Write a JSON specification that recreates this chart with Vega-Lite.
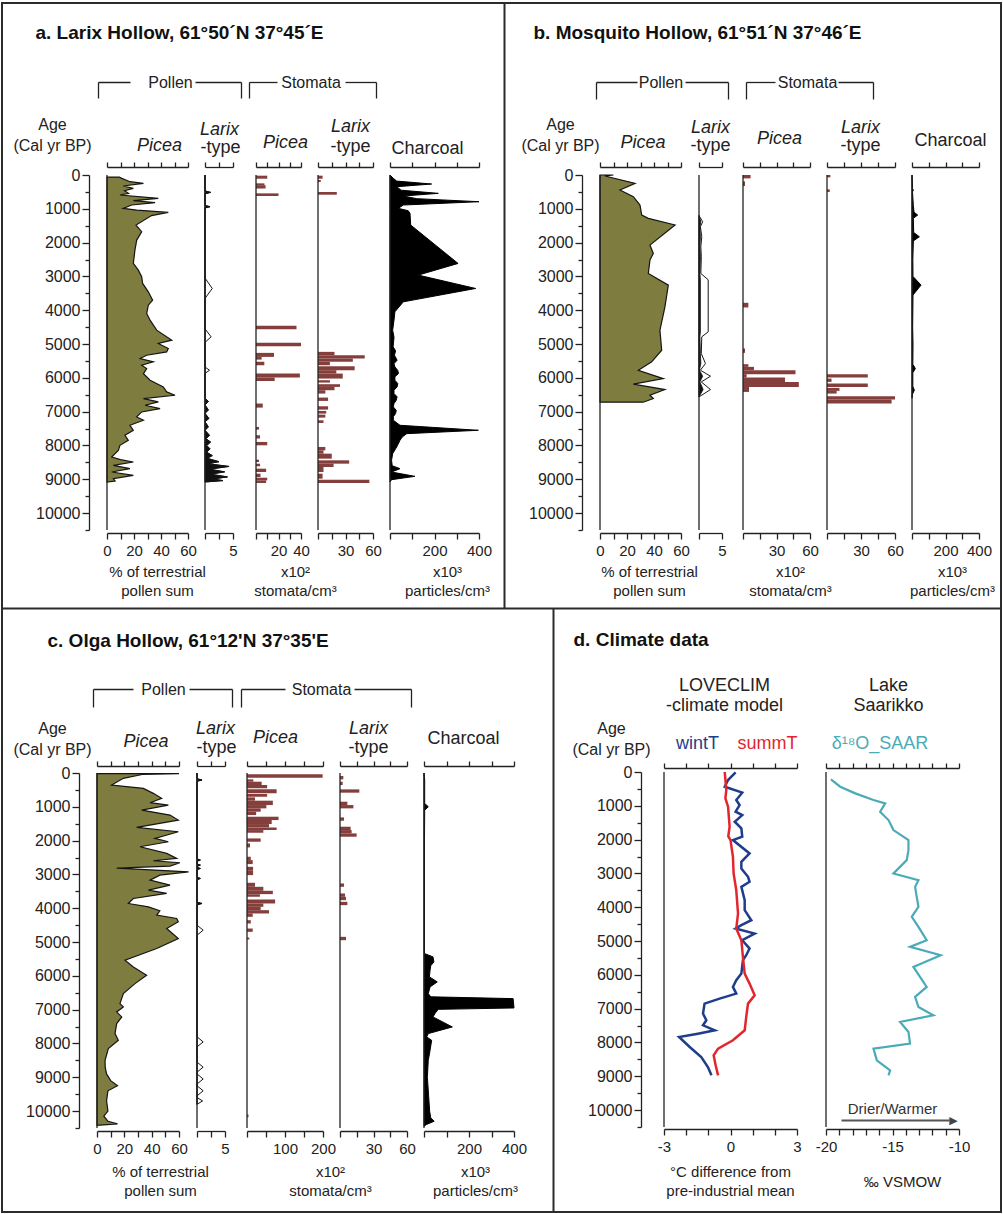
{
"$schema": "https://vega.github.io/schema/vega-lite/v6.json",
"background": "white",
"width": 999, "height": 1209,
"autosize": {"type": "none"},
"padding": {"left": 2, "top": 3, "right": 2, "bottom": 2},
"config": {
  "font": "Liberation Sans",
  "view": {"stroke": "#2b2b2b", "strokeWidth": 2},
  "axis": {"grid": false, "domainColor": "#222", "tickColor": "#222", "domainWidth": 1.3, "tickWidth": 1.3, "tickSize": 5, "labelColor": "#222", "labelFont": "Liberation Sans", "labelFontSize": 15, "labelPadding": 4, "labelOverlap": false, "labelFlush": false, "titleFont": "Liberation Sans", "titleFontWeight": "normal", "titleFontSize": 18, "titleColor": "#222", "titleAlign": "center", "titleBaseline": "alphabetic", "titleLineHeight": 19, "titlePadding": 0}
},
"datasets": {
  "pa_picea": [{"age":60,"v":9},{"age":99,"v":11},{"age":198,"v":17},{"age":247,"v":27},{"age":326,"v":12},{"age":395,"v":19.5},{"age":464,"v":13},{"age":543,"v":16},{"age":592,"v":9.6},{"age":691,"v":38},{"age":760,"v":19.5},{"age":819,"v":35.6},{"age":888,"v":18.3},{"age":987,"v":12.1},{"age":1037,"v":22},{"age":1105,"v":45.4},{"age":1200,"v":33},{"age":1480,"v":21.5},{"age":1678,"v":25.7},{"age":1925,"v":22},{"age":2221,"v":20.7},{"age":2616,"v":19.5},{"age":2813,"v":23.2},{"age":3011,"v":25.7},{"age":3208,"v":26.4},{"age":3455,"v":30.6},{"age":3702,"v":33.8},{"age":3850,"v":30.6},{"age":4096,"v":29.4},{"age":4294,"v":31.9},{"age":4590,"v":36.8},{"age":4886,"v":48},{"age":4985,"v":38},{"age":5132,"v":45.4},{"age":5231,"v":44.2},{"age":5330,"v":29.4},{"age":5429,"v":24.5},{"age":5527,"v":34.3},{"age":5626,"v":25.7},{"age":5725,"v":29.4},{"age":5873,"v":27},{"age":6070,"v":31.9},{"age":6268,"v":41.7},{"age":6416,"v":44.2},{"age":6514,"v":50.4},{"age":6613,"v":27},{"age":6712,"v":38},{"age":6810,"v":28.2},{"age":6909,"v":39.3},{"age":7008,"v":25.7},{"age":7156,"v":22},{"age":7255,"v":27},{"age":7403,"v":17},{"age":7551,"v":19.5},{"age":7699,"v":13.3},{"age":7847,"v":15.8},{"age":7995,"v":9.6},{"age":8143,"v":8.4},{"age":8242,"v":6},{"age":8341,"v":3.5},{"age":8420,"v":10},{"age":8489,"v":19.5},{"age":8588,"v":4.7},{"age":8686,"v":17},{"age":8785,"v":3.5},{"age":8884,"v":19.5},{"age":8982,"v":4.7},{"age":9051,"v":6},{"age":9080,"v":0}],
  "pa_larix": [{"age":0,"v":0,"e":0},{"age":470,"v":0,"e":0},{"age":513,"v":1.0,"e":1.0},{"age":560,"v":0,"e":0},{"age":900,"v":0,"e":0},{"age":938,"v":0.9,"e":0.9},{"age":975,"v":0,"e":0},{"age":3050,"v":0,"e":0},{"age":3356,"v":0,"e":1.3},{"age":3650,"v":0,"e":0},{"age":4550,"v":0,"e":0},{"age":4787,"v":0,"e":1.1},{"age":4950,"v":0,"e":0},{"age":5680,"v":0,"e":0},{"age":5774,"v":0,"e":0.8},{"age":5870,"v":0,"e":0},{"age":6600,"v":0,"e":0},{"age":6700,"v":0.6,"e":0.6},{"age":6800,"v":0,"e":0},{"age":6950,"v":0.6,"e":0.6},{"age":7050,"v":0,"e":0},{"age":7200,"v":0.7,"e":0.7},{"age":7300,"v":0,"e":0},{"age":7450,"v":0.6,"e":0.6},{"age":7550,"v":0,"e":0},{"age":7700,"v":0.8,"e":0.8},{"age":7800,"v":0.2,"e":0.2},{"age":7900,"v":1.0,"e":1.0},{"age":8000,"v":0.3,"e":0.3},{"age":8100,"v":0.9,"e":0.9},{"age":8200,"v":0.3,"e":0.3},{"age":8300,"v":1.3,"e":1.3},{"age":8380,"v":0.4,"e":0.4},{"age":8480,"v":2.5,"e":2.5},{"age":8540,"v":0.5,"e":0.5},{"age":8620,"v":4.3,"e":4.3},{"age":8700,"v":0.8,"e":0.8},{"age":8780,"v":3.5,"e":3.5},{"age":8850,"v":1.0,"e":1.0},{"age":8930,"v":4.0,"e":4.0},{"age":8990,"v":1.5,"e":1.5},{"age":9040,"v":3.2,"e":3.2},{"age":9080,"v":0,"e":0}],
  "pa_spic": [{"a0":20,"a1":110,"v":10},{"a0":247,"a1":300,"v":7.5},{"a0":300,"a1":400,"v":8.5},{"a0":543,"a1":622,"v":20},{"a0":4461,"a1":4560,"v":36},{"a0":4965,"a1":5063,"v":40},{"a0":5261,"a1":5380,"v":16},{"a0":5380,"a1":5460,"v":5},{"a0":5527,"a1":5626,"v":7.4},{"a0":5873,"a1":5992,"v":39},{"a0":5992,"a1":6090,"v":16.6},{"a0":6760,"a1":6880,"v":6},{"a0":7452,"a1":7531,"v":2.7},{"a0":7699,"a1":7797,"v":3.6},{"a0":7896,"a1":7995,"v":10},{"a0":8420,"a1":8489,"v":2.7},{"a0":8538,"a1":8617,"v":3.6},{"a0":8686,"a1":8785,"v":9},{"a0":8834,"a1":8933,"v":4},{"a0":8953,"a1":9031,"v":10},{"a0":9031,"a1":9110,"v":9}],
  "pa_slar": [{"a0":20,"a1":110,"v":5},{"a0":148,"a1":207,"v":3},{"a0":503,"a1":583,"v":20.5},{"a0":5231,"a1":5330,"v":18},{"a0":5330,"a1":5429,"v":51},{"a0":5429,"a1":5527,"v":38},{"a0":5527,"a1":5626,"v":13},{"a0":5656,"a1":5774,"v":40},{"a0":5774,"a1":5873,"v":20},{"a0":5873,"a1":6021,"v":27},{"a0":6070,"a1":6139,"v":13},{"a0":6188,"a1":6268,"v":24},{"a0":6268,"a1":6366,"v":18},{"a0":6366,"a1":6465,"v":8},{"a0":6583,"a1":6682,"v":11},{"a0":6840,"a1":6939,"v":11},{"a0":6978,"a1":7057,"v":9},{"a0":7087,"a1":7176,"v":8},{"a0":7255,"a1":7334,"v":6},{"a0":8044,"a1":8143,"v":8},{"a0":8143,"a1":8242,"v":6},{"a0":8242,"a1":8390,"v":15},{"a0":8439,"a1":8538,"v":34},{"a0":8538,"a1":8637,"v":17},{"a0":8637,"a1":8785,"v":6},{"a0":8834,"a1":8982,"v":5},{"a0":9011,"a1":9110,"v":56}],
  "pa_char": [{"age":0,"v":0},{"age":99,"v":15},{"age":180,"v":30},{"age":267,"v":187},{"age":346,"v":30},{"age":450,"v":50},{"age":543,"v":217},{"age":622,"v":60},{"age":700,"v":120},{"age":790,"v":400},{"age":888,"v":60},{"age":987,"v":37},{"age":1056,"v":82},{"age":1135,"v":90},{"age":1480,"v":93},{"age":2616,"v":306},{"age":2961,"v":127},{"age":3356,"v":385},{"age":3751,"v":60},{"age":4047,"v":22},{"age":4294,"v":18},{"age":4590,"v":12},{"age":4800,"v":18},{"age":5083,"v":14},{"age":5200,"v":25},{"age":5330,"v":20},{"age":5478,"v":32},{"age":5580,"v":18},{"age":5676,"v":22},{"age":5780,"v":35},{"age":5873,"v":38},{"age":5970,"v":22},{"age":6070,"v":22},{"age":6170,"v":35},{"age":6268,"v":32},{"age":6365,"v":18},{"age":6465,"v":18},{"age":6560,"v":32},{"age":6662,"v":28},{"age":6760,"v":18},{"age":6860,"v":15},{"age":6960,"v":28},{"age":7057,"v":25},{"age":7150,"v":15},{"age":7255,"v":15},{"age":7403,"v":45},{"age":7551,"v":397},{"age":7650,"v":75},{"age":7750,"v":55},{"age":7847,"v":45},{"age":8044,"v":30},{"age":8242,"v":12},{"age":8439,"v":7},{"age":8600,"v":10},{"age":8686,"v":45},{"age":8785,"v":7},{"age":8913,"v":112},{"age":9011,"v":7},{"age":9080,"v":0}],
  "pb_picea": [{"age":0,"v":9.9},{"age":30,"v":3.7},{"age":247,"v":26},{"age":444,"v":14.8},{"age":642,"v":24.7},{"age":888,"v":29.6},{"age":1185,"v":30.9},{"age":1283,"v":35.8},{"age":1480,"v":55.6},{"age":2073,"v":37},{"age":2320,"v":39.5},{"age":2517,"v":37},{"age":2912,"v":35.8},{"age":3257,"v":50.6},{"age":3898,"v":48.1},{"age":4590,"v":44.4},{"age":5182,"v":45.7},{"age":5527,"v":38.3},{"age":5774,"v":28.4},{"age":6021,"v":46.9},{"age":6188,"v":24.7},{"age":6346,"v":48.1},{"age":6514,"v":37},{"age":6613,"v":39.5},{"age":6720,"v":32}],
  "pb_larix": [{"age":1200,"v":0,"e":0},{"age":1382,"v":0.4,"e":0.8},{"age":1530,"v":0.2,"e":0.3},{"age":1826,"v":0.3,"e":0.6},{"age":2122,"v":0.2,"e":0.4},{"age":2418,"v":0.3,"e":0.5},{"age":2912,"v":0.2,"e":0.4},{"age":3100,"v":0.3,"e":2.0},{"age":4639,"v":0.3,"e":2.0},{"age":4787,"v":0.2,"e":0.6},{"age":5281,"v":0.3,"e":0.5},{"age":5577,"v":0.4,"e":1.4},{"age":5774,"v":0.1,"e":0.3},{"age":5952,"v":0.8,"e":2.5},{"age":6120,"v":0.2,"e":0.5},{"age":6346,"v":0.9,"e":2.5},{"age":6564,"v":0,"e":0}],
  "pb_spic": [{"a0":0,"a1":100,"v":6.8},{"a0":188,"a1":326,"v":1.8},{"a0":3780,"a1":3918,"v":4.8},{"a0":5132,"a1":5261,"v":1.8},{"a0":5596,"a1":5675,"v":4.8},{"a0":5675,"a1":5774,"v":9.8},{"a0":5774,"a1":5892,"v":47},{"a0":5892,"a1":5991,"v":3.3},{"a0":5991,"a1":6120,"v":37.6},{"a0":6120,"a1":6268,"v":50},{"a0":6268,"a1":6416,"v":5.4}],
  "pb_slar": [{"a0":0,"a1":70,"v":3},{"a0":425,"a1":503,"v":2.4},{"a0":5892,"a1":5991,"v":36},{"a0":6021,"a1":6120,"v":4},{"a0":6169,"a1":6268,"v":36},{"a0":6297,"a1":6386,"v":11},{"a0":6386,"a1":6465,"v":8.5},{"a0":6544,"a1":6643,"v":60},{"a0":6643,"a1":6761,"v":57}],
  "pb_char": [{"age":0,"v":0},{"age":400,"v":3},{"age":444,"v":8},{"age":500,"v":3},{"age":900,"v":8},{"age":1100,"v":12},{"age":1185,"v":34},{"age":1280,"v":8},{"age":1700,"v":10},{"age":1826,"v":44},{"age":1950,"v":8},{"age":2500,"v":5},{"age":3000,"v":6},{"age":3257,"v":54},{"age":3550,"v":6},{"age":4500,"v":4},{"age":5000,"v":6},{"age":5600,"v":5},{"age":5725,"v":20},{"age":5850,"v":5},{"age":6250,"v":5},{"age":6366,"v":14},{"age":6480,"v":3},{"age":6600,"v":0}],
  "pc_picea": [{"age":20,"v":60},{"age":45,"v":33},{"age":158,"v":19.3},{"age":356,"v":10.7},{"age":454,"v":33.9},{"age":602,"v":41.2},{"age":750,"v":47.3},{"age":879,"v":38.8},{"age":948,"v":52.2},{"age":1096,"v":32.7},{"age":1244,"v":53.4},{"age":1392,"v":59.5},{"age":1609,"v":29},{"age":1737,"v":59.5},{"age":1935,"v":42.4},{"age":2033,"v":52.2},{"age":2181,"v":31.5},{"age":2379,"v":51},{"age":2527,"v":58.3},{"age":2596,"v":41.2},{"age":2655,"v":60.7},{"age":2754,"v":53.4},{"age":2813,"v":14.4},{"age":2922,"v":67},{"age":3020,"v":46},{"age":3168,"v":38.8},{"age":3316,"v":53.4},{"age":3464,"v":37.6},{"age":3563,"v":51},{"age":3711,"v":26.6},{"age":3859,"v":22.9},{"age":3958,"v":37.6},{"age":4076,"v":46},{"age":4205,"v":43.7},{"age":4303,"v":58.3},{"age":4402,"v":59.5},{"age":4600,"v":51},{"age":4896,"v":59.5},{"age":5192,"v":43.7},{"age":5537,"v":20.5},{"age":5735,"v":26.6},{"age":5982,"v":36.3},{"age":6229,"v":27.8},{"age":6525,"v":19.3},{"age":6821,"v":16.8},{"age":6919,"v":19.3},{"age":7067,"v":14.4},{"age":7215,"v":18.1},{"age":7412,"v":14.4},{"age":7708,"v":13.2},{"age":7906,"v":15.6},{"age":8153,"v":8.3},{"age":8498,"v":5.9},{"age":8700,"v":6},{"age":8900,"v":7},{"age":9100,"v":10},{"age":9250,"v":15},{"age":9400,"v":8},{"age":9700,"v":7},{"age":10000,"v":8},{"age":10150,"v":5},{"age":10300,"v":8},{"age":10380,"v":15},{"age":10420,"v":0}],
  "pc_larix": [{"age":0,"v":0,"e":0},{"age":170,"v":0,"e":0},{"age":207,"v":0.9,"e":0.9},{"age":245,"v":0,"e":0},{"age":2540,"v":0,"e":0},{"age":2576,"v":0.6,"e":0.6},{"age":2610,"v":0,"e":0},{"age":2690,"v":0,"e":0},{"age":2724,"v":0.6,"e":0.6},{"age":2760,"v":0,"e":0},{"age":2790,"v":0,"e":0},{"age":2823,"v":0.6,"e":0.6},{"age":2860,"v":0,"e":0},{"age":3080,"v":0,"e":0},{"age":3119,"v":0.6,"e":0.6},{"age":3160,"v":0,"e":0},{"age":3820,"v":0,"e":0},{"age":3859,"v":0.9,"e":0.9},{"age":3900,"v":0,"e":0},{"age":4500,"v":0,"e":0},{"age":4649,"v":0,"e":1.1},{"age":4800,"v":0,"e":0},{"age":7800,"v":0,"e":0},{"age":7955,"v":0,"e":1.1},{"age":8100,"v":0,"e":0},{"age":8550,"v":0,"e":0},{"age":8700,"v":0,"e":1.1},{"age":8850,"v":0,"e":0},{"age":8900,"v":0,"e":0},{"age":9050,"v":0,"e":1.1},{"age":9200,"v":0,"e":0},{"age":9250,"v":0,"e":0},{"age":9400,"v":0,"e":1.1},{"age":9550,"v":0,"e":0},{"age":9600,"v":0,"e":0},{"age":9700,"v":0,"e":1.0},{"age":9800,"v":0,"e":0}],
  "pc_spic": [{"a0":40,"a1":138,"v":199},{"a0":188,"a1":257,"v":16.6},{"a0":257,"a1":356,"v":38.6},{"a0":356,"a1":454,"v":53},{"a0":484,"a1":602,"v":78},{"a0":622,"a1":701,"v":53},{"a0":721,"a1":819,"v":21},{"a0":819,"a1":948,"v":68},{"a0":948,"a1":1046,"v":51},{"a0":1046,"a1":1145,"v":36},{"a0":1145,"a1":1244,"v":24},{"a0":1293,"a1":1392,"v":83},{"a0":1392,"a1":1510,"v":65},{"a0":1510,"a1":1609,"v":58},{"a0":1609,"a1":1688,"v":78},{"a0":1688,"a1":1767,"v":43},{"a0":1935,"a1":2033,"v":36},{"a0":2083,"a1":2201,"v":8},{"a0":2477,"a1":2576,"v":10},{"a0":2576,"a1":2695,"v":15},{"a0":2774,"a1":2892,"v":16},{"a0":2892,"a1":3020,"v":16},{"a0":3247,"a1":3366,"v":21},{"a0":3366,"a1":3484,"v":43},{"a0":3484,"a1":3583,"v":68},{"a0":3583,"a1":3662,"v":34},{"a0":3741,"a1":3859,"v":74},{"a0":3859,"a1":3958,"v":43},{"a0":3958,"a1":4057,"v":36},{"a0":4057,"a1":4155,"v":58},{"a0":4155,"a1":4254,"v":15},{"a0":4353,"a1":4451,"v":10},{"a0":4600,"a1":4698,"v":15},{"a0":4866,"a1":4925,"v":6},{"a0":10100,"a1":10180,"v":4}],
  "pc_slar": [{"a0":89,"a1":188,"v":3},{"a0":257,"a1":356,"v":2.4},{"a0":484,"a1":582,"v":17.3},{"a0":849,"a1":948,"v":6.6},{"a0":948,"a1":1046,"v":12},{"a0":1313,"a1":1412,"v":3.6},{"a0":1589,"a1":1688,"v":9.5},{"a0":1688,"a1":1787,"v":10.4},{"a0":1787,"a1":1885,"v":14.9},{"a0":3267,"a1":3366,"v":3.6},{"a0":3563,"a1":3662,"v":4.5},{"a0":3662,"a1":3761,"v":5.4},{"a0":3810,"a1":3909,"v":6.6},{"a0":4846,"a1":4945,"v":5.4}],
  "pc_char": [{"age":0,"v":0},{"age":200,"v":3},{"age":900,"v":3},{"age":997,"v":19},{"age":1100,"v":3},{"age":2200,"v":2},{"age":3900,"v":2},{"age":5340,"v":2},{"age":5439,"v":40},{"age":5587,"v":44},{"age":5700,"v":30},{"age":5834,"v":27},{"age":6031,"v":24},{"age":6179,"v":59},{"age":6327,"v":27},{"age":6525,"v":19},{"age":6620,"v":30},{"age":6673,"v":396},{"age":6950,"v":400},{"age":6990,"v":64},{"age":7100,"v":50},{"age":7215,"v":40},{"age":7511,"v":126},{"age":7708,"v":19},{"age":7807,"v":12},{"age":7906,"v":34},{"age":8202,"v":27},{"age":8498,"v":19},{"age":9000,"v":15},{"age":9500,"v":20},{"age":10000,"v":25},{"age":10200,"v":30},{"age":10300,"v":45},{"age":10400,"v":10},{"age":10450,"v":0}],
  "pd_wint": [{"age":10,"v":0.23},{"age":237,"v":-0.11},{"age":435,"v":-0.26},{"age":612,"v":0.53},{"age":830,"v":0.26},{"age":978,"v":0.41},{"age":1175,"v":0.23},{"age":1274,"v":0.53},{"age":1471,"v":0.19},{"age":1669,"v":0.49},{"age":1915,"v":0.53},{"age":2014,"v":0.11},{"age":2409,"v":0.86},{"age":2656,"v":0.49},{"age":2853,"v":0.49},{"age":3100,"v":0.79},{"age":3248,"v":0.86},{"age":3396,"v":0.49},{"age":3791,"v":0.64},{"age":4087,"v":0.64},{"age":4383,"v":0.94},{"age":4531,"v":0.49},{"age":4630,"v":0.23},{"age":4778,"v":1.09},{"age":4975,"v":0.53},{"age":5222,"v":0.86},{"age":5419,"v":0.71},{"age":5567,"v":0.56},{"age":5962,"v":0.49},{"age":6159,"v":0.26},{"age":6357,"v":0.11},{"age":6554,"v":0.26},{"age":6702,"v":-0.49},{"age":6850,"v":-1.17},{"age":7146,"v":-1.24},{"age":7344,"v":-1.09},{"age":7492,"v":-1.24},{"age":7640,"v":-0.71},{"age":7739,"v":-1.47},{"age":7837,"v":-2.32},{"age":8133,"v":-1.84},{"age":8429,"v":-1.32},{"age":8725,"v":-1.02},{"age":8972,"v":-0.86}],
  "pd_summ": [{"age":0,"v":-0.26},{"age":534,"v":-0.19},{"age":780,"v":-0.23},{"age":1027,"v":-0.11},{"age":1619,"v":-0.04},{"age":1900,"v":-0.1},{"age":2014,"v":0},{"age":2507,"v":0.11},{"age":3001,"v":0.14},{"age":3495,"v":0.26},{"age":4186,"v":0.34},{"age":4630,"v":0.26},{"age":4975,"v":0.49},{"age":5469,"v":0.56},{"age":5962,"v":0.64},{"age":6258,"v":0.86},{"age":6604,"v":1.09},{"age":6850,"v":0.79},{"age":7245,"v":0.71},{"age":7640,"v":0.64},{"age":7936,"v":0.11},{"age":8183,"v":-0.56},{"age":8380,"v":-0.76},{"age":8676,"v":-0.67},{"age":8972,"v":-0.56}],
  "pd_d18o": [{"age":218,"v":-19.63},{"age":435,"v":-18.93},{"age":632,"v":-17.8},{"age":830,"v":-16.43},{"age":928,"v":-15.55},{"age":1175,"v":-15.93},{"age":1422,"v":-15.3},{"age":1718,"v":-14.93},{"age":2014,"v":-13.8},{"age":2310,"v":-13.8},{"age":2606,"v":-13.93},{"age":3001,"v":-14.93},{"age":3198,"v":-13.05},{"age":3396,"v":-13.3},{"age":3692,"v":-13.18},{"age":3988,"v":-13.05},{"age":4284,"v":-13.55},{"age":4580,"v":-13.05},{"age":4975,"v":-12.43},{"age":5172,"v":-13.68},{"age":5419,"v":-11.38},{"age":5765,"v":-13.43},{"age":6061,"v":-12.93},{"age":6357,"v":-12.43},{"age":6653,"v":-13.3},{"age":6949,"v":-13.05},{"age":7196,"v":-11.93},{"age":7393,"v":-14.43},{"age":7689,"v":-13.8},{"age":8035,"v":-13.68},{"age":8183,"v":-16.43},{"age":8528,"v":-16.18},{"age":8824,"v":-15.18},{"age":8972,"v":-15.3}]
},
"resolve": {"scale": {"x": "independent", "y": "independent"}, "axis": {"x": "independent", "y": "independent"}},
"layer": [
  {"data": {"values": [{}]}, "mark": {"type": "rule", "opacity": 0}, "encoding": {"x": {"datum": 0, "type": "quantitative", "scale": {"domain": [0, 1], "range": [0, 999], "nice": false, "zero": false}, "axis": {"orient": "top", "offset": -605, "values": [0], "ticks": false, "labels": false, "domain": true, "domainColor": "#2b2b2b", "domainWidth": 2, "title": "c.  Olga Hollow,  61°12'N 37°35'E", "titleFontWeight": "bold", "titleFontSize": 19, "titleColor": "#111", "titleAlign": "left", "titleX": 45, "titleY": 38}}}},
  {"data": {"values": [{}]}, "mark": {"type": "rule", "opacity": 0}, "encoding": {"x": {"datum": 0, "type": "quantitative", "scale": {"domain": [0, 1], "range": [0, 999], "nice": false, "zero": false}, "axis": {"orient": "top", "offset": 0, "values": [0], "ticks": false, "labels": false, "domain": false, "title": "a.  Larix Hollow, 61°50´N 37°45´E", "titleFontWeight": "bold", "titleFontSize": 19, "titleColor": "#111", "titleAlign": "left", "titleX": 33, "titleY": 35}}}},
  {"data": {"values": [{}]}, "mark": {"type": "rule", "opacity": 0}, "encoding": {"y": {"datum": 0, "type": "quantitative", "scale": {"domain": [0, 1], "range": [0, 605], "nice": false, "zero": false}, "axis": {"orient": "left", "offset": -502, "values": [0], "ticks": false, "labels": false, "domain": true, "domainColor": "#2b2b2b", "domainWidth": 2, "title": "b.  Mosquito Hollow, 61°51´N  37°46´E", "titleAngle": 0, "titleFontWeight": "bold", "titleFontSize": 19, "titleColor": "#111", "titleAlign": "left", "titleX": 29, "titleY": 35}}}},
  {"data": {"values": [{}]}, "mark": {"type": "rule", "opacity": 0}, "encoding": {"y": {"datum": 0, "type": "quantitative", "scale": {"domain": [0, 1], "range": [605, 1209], "nice": false, "zero": false}, "axis": {"orient": "left", "offset": -551, "values": [0], "ticks": false, "labels": false, "domain": true, "domainColor": "#2b2b2b", "domainWidth": 2, "title": "d.  Climate data", "titleAngle": 0, "titleFontWeight": "bold", "titleFontSize": 19, "titleColor": "#111", "titleAlign": "left", "titleX": 20, "titleY": 642}}}},

  {"data": {"values": [{}]}, "mark": {"type": "rule", "opacity": 0}, "encoding": {"y": {"datum": 0, "type": "quantitative", "scale": {"domain": [0, 10500], "range": [172, 527], "nice": false, "zero": false}, "axis": {"orient": "left", "offset": -87, "values": [0,1000,2000,3000,4000,5000,6000,7000,8000,9000,10000], "tickSize": 7, "labelExpr": "'' + datum.value", "labelFontSize": 16, "labelPadding": 2, "title": ["Age", "(Cal yr BP)"], "titleAngle": 0, "titleFontSize": 16, "titleLineHeight": 21, "titleX": -37, "titleY": 126}}}},
  {"data": {"values": [{}]}, "mark": {"type": "rule", "opacity": 0}, "encoding": {"y": {"datum": 0, "type": "quantitative", "scale": {"domain": [0, 10500], "range": [172, 527], "nice": false, "zero": false}, "axis": {"orient": "left", "offset": -87, "values": [500,1500,2500,3500,4500,5500,6500,7500,8500,9500,10500], "tickSize": 4, "labels": false, "domain": false, "title": null}}}},
  {"data": {"name": "pa_picea"}, "mark": {"type": "area", "orient": "horizontal", "fill": "#7e7c3f", "stroke": "#151515", "strokeWidth": 1.2},
   "encoding": {"x": {"field": "v", "type": "quantitative", "stack": null, "scale": {"domain": [0, 60], "range": [105, 186], "nice": false, "zero": false}, "axis": {"orient": "top", "offset": -164, "values": [0,10,20,30,40,50,60], "labels": false, "title": "Picea", "titleFontStyle": "italic", "titleX": 157, "titleY": -17}},
    "y": {"field": "age", "type": "quantitative", "scale": {"domain": [0, 10500], "range": [172, 527], "nice": false, "zero": false}, "axis": null}}},
  {"data": {"values": [{}]}, "mark": {"type": "rule", "color": "#222", "strokeWidth": 1.3},
   "encoding": {"x": {"datum": 0, "type": "quantitative", "scale": {"domain": [0, 60], "range": [105, 186], "nice": false, "zero": false}, "axis": {"orient": "bottom", "offset": -679, "values": [0,10,20,30,40,50,60], "tickSize": 6, "labelExpr": "datum.value % 20 === 0 ? '' + datum.value : ''", "title": ["% of terrestrial", "pollen sum"], "titleFontSize": 15, "titleX": 155, "titleY": 43}},
    "y": {"datum": 0, "type": "quantitative", "scale": {"domain": [0, 10500], "range": [172, 527], "nice": false, "zero": false}, "axis": null}, "y2": {"datum": 10500}}},
  {"data": {"name": "pa_larix"}, "mark": {"type": "area", "orient": "horizontal", "fill": "white", "stroke": "#151515", "strokeWidth": 1},
   "encoding": {"x": {"field": "e", "type": "quantitative", "stack": null, "scale": {"domain": [0, 5], "range": [203, 231], "nice": false, "zero": false}, "axis": {"orient": "top", "offset": -164, "values": [0, 2.5, 5], "labels": false, "title": "Larix", "titleFontStyle": "italic", "titleX": 217, "titleY": -33}},
    "y": {"field": "age", "type": "quantitative", "scale": {"domain": [0, 10500], "range": [172, 527], "nice": false, "zero": false}, "axis": null}}},
  {"data": {"name": "pa_larix"}, "mark": {"type": "area", "orient": "horizontal", "fill": "#111", "stroke": "#111", "strokeWidth": 0.8},
   "encoding": {"x": {"field": "v", "type": "quantitative", "stack": null, "scale": {"domain": [0, 5], "range": [203, 231], "nice": false, "zero": false}, "axis": null},
    "y": {"field": "age", "type": "quantitative", "scale": {"domain": [0, 10500], "range": [172, 527], "nice": false, "zero": false}, "axis": null}}},
  {"data": {"values": [{}]}, "mark": {"type": "rule", "color": "#222", "strokeWidth": 1.3},
   "encoding": {"x": {"datum": 0, "type": "quantitative", "scale": {"domain": [0, 5], "range": [203, 231], "nice": false, "zero": false}, "axis": {"orient": "bottom", "offset": -679, "values": [0, 2.5, 5], "tickSize": 6, "labelExpr": "datum.value === 5 ? '5' : ''", "title": null}},
    "y": {"datum": 0, "type": "quantitative", "scale": {"domain": [0, 10500], "range": [172, 527], "nice": false, "zero": false}, "axis": null}, "y2": {"datum": 10500}}},
  {"data": {"name": "pa_spic"}, "mark": {"type": "rect", "color": "#843f3c"},
   "encoding": {"x": {"field": "v", "type": "quantitative", "scale": {"domain": [0, 40], "range": [254, 299], "nice": false, "zero": false}, "axis": {"orient": "top", "offset": -164, "values": [0,10,20,30,40], "labels": false, "title": "Picea", "titleFontStyle": "italic", "titleX": 283, "titleY": -20}},
    "x2": {"datum": 0}, "y": {"field": "a0", "type": "quantitative", "scale": {"domain": [0, 10500], "range": [172, 527], "nice": false, "zero": false}, "axis": null}, "y2": {"field": "a1"}}},
  {"data": {"values": [{}]}, "mark": {"type": "rule", "color": "#222", "strokeWidth": 1.3},
   "encoding": {"x": {"datum": 0, "type": "quantitative", "scale": {"domain": [0, 40], "range": [254, 299], "nice": false, "zero": false}, "axis": {"orient": "bottom", "offset": -679, "values": [0,10,20,30,40], "tickSize": 6, "labelExpr": "datum.value % 20 === 0 && datum.value > 0 ? '' + datum.value : ''", "title": ["x10²", "stomata/cm³"], "titleFontSize": 15, "titleX": 293, "titleY": 43}},
    "y": {"datum": 0, "type": "quantitative", "scale": {"domain": [0, 10500], "range": [172, 527], "nice": false, "zero": false}, "axis": null}, "y2": {"datum": 10500}}},
  {"data": {"name": "pa_slar"}, "mark": {"type": "rect", "color": "#843f3c"},
   "encoding": {"x": {"field": "v", "type": "quantitative", "scale": {"domain": [0, 60], "range": [316, 371], "nice": false, "zero": false}, "axis": {"orient": "top", "offset": -164, "values": [0,15,30,45,60], "labels": false, "title": "Larix", "titleFontStyle": "italic", "titleX": 348, "titleY": -36}},
    "x2": {"datum": 0}, "y": {"field": "a0", "type": "quantitative", "scale": {"domain": [0, 10500], "range": [172, 527], "nice": false, "zero": false}, "axis": null}, "y2": {"field": "a1"}}},
  {"data": {"values": [{}]}, "mark": {"type": "rule", "color": "#222", "strokeWidth": 1.3},
   "encoding": {"x": {"datum": 0, "type": "quantitative", "scale": {"domain": [0, 60], "range": [316, 371], "nice": false, "zero": false}, "axis": {"orient": "bottom", "offset": -679, "values": [0,15,30,45,60], "tickSize": 6, "labelExpr": "datum.value % 30 === 0 && datum.value > 0 ? '' + datum.value : ''", "title": null}},
    "y": {"datum": 0, "type": "quantitative", "scale": {"domain": [0, 10500], "range": [172, 527], "nice": false, "zero": false}, "axis": null}, "y2": {"datum": 10500}}},
  {"data": {"name": "pa_char"}, "mark": {"type": "area", "orient": "horizontal", "fill": "#000", "stroke": "#000", "strokeWidth": 1},
   "encoding": {"x": {"field": "v", "type": "quantitative", "stack": null, "scale": {"domain": [0, 400], "range": [388, 477], "nice": false, "zero": false}, "axis": {"orient": "top", "offset": -164, "values": [0,100,200,300,400], "labels": false, "title": "Charcoal", "titleX": 425, "titleY": -14}},
    "y": {"field": "age", "type": "quantitative", "scale": {"domain": [0, 10500], "range": [172, 527], "nice": false, "zero": false}, "axis": null}}},
  {"data": {"values": [{}]}, "mark": {"type": "rule", "color": "#222", "strokeWidth": 1.3},
   "encoding": {"x": {"datum": 0, "type": "quantitative", "scale": {"domain": [0, 400], "range": [388, 477], "nice": false, "zero": false}, "axis": {"orient": "bottom", "offset": -679, "values": [0,100,200,300,400], "tickSize": 6, "labelExpr": "datum.value % 200 === 0 && datum.value > 0 ? '' + datum.value : ''", "title": ["x10³", "particles/cm³"], "titleFontSize": 15, "titleX": 445, "titleY": 43}},
    "y": {"datum": 0, "type": "quantitative", "scale": {"domain": [0, 10500], "range": [172, 527], "nice": false, "zero": false}, "axis": null}, "y2": {"datum": 10500}}},
  {"data": {"values": [{}]}, "mark": {"type": "rule", "opacity": 0}, "encoding": {"x": {"datum": 0, "type": "quantitative", "scale": {"domain": [0, 1], "range": [96, 128], "nice": false, "zero": false}, "axis": {"orient": "top", "offset": -79, "values": [0], "tickSize": -16, "labels": false, "title": "Pollen", "titleFontSize": 16, "titleX": 168, "titleY": 5}}}},
  {"data": {"values": [{}]}, "mark": {"type": "rule", "opacity": 0}, "encoding": {"x": {"datum": 0, "type": "quantitative", "scale": {"domain": [0, 1], "range": [193, 239], "nice": false, "zero": false}, "axis": {"orient": "top", "offset": -79, "values": [1], "tickSize": -16, "labels": false, "title": "-type", "titleX": 218, "titleY": 70}}}},
  {"data": {"values": [{}]}, "mark": {"type": "rule", "opacity": 0}, "encoding": {"x": {"datum": 0, "type": "quantitative", "scale": {"domain": [0, 1], "range": [247, 275], "nice": false, "zero": false}, "axis": {"orient": "top", "offset": -79, "values": [0], "tickSize": -16, "labels": false, "title": "Stomata", "titleFontSize": 16, "titleX": 308.5, "titleY": 5}}}},
  {"data": {"values": [{}]}, "mark": {"type": "rule", "opacity": 0}, "encoding": {"x": {"datum": 0, "type": "quantitative", "scale": {"domain": [0, 1], "range": [343, 374], "nice": false, "zero": false}, "axis": {"orient": "top", "offset": -79, "values": [1], "tickSize": -16, "labels": false, "title": "-type", "titleX": 348, "titleY": 69}}}},

  {"data": {"values": [{}]}, "mark": {"type": "rule", "opacity": 0}, "encoding": {"y": {"datum": 0, "type": "quantitative", "scale": {"domain": [0, 10500], "range": [172, 527], "nice": false, "zero": false}, "axis": {"orient": "left", "offset": -580, "values": [0,1000,2000,3000,4000,5000,6000,7000,8000,9000,10000], "tickSize": 7, "labelExpr": "'' + datum.value", "labelFontSize": 16, "labelPadding": 2, "title": ["Age", "(Cal yr BP)"], "titleAngle": 0, "titleFontSize": 16, "titleLineHeight": 21, "titleX": -22, "titleY": 126}}}},
  {"data": {"values": [{}]}, "mark": {"type": "rule", "opacity": 0}, "encoding": {"y": {"datum": 0, "type": "quantitative", "scale": {"domain": [0, 10500], "range": [172, 527], "nice": false, "zero": false}, "axis": {"orient": "left", "offset": -580, "values": [500,1500,2500,3500,4500,5500,6500,7500,8500,9500,10500], "tickSize": 4, "labels": false, "domain": false, "title": null}}}},
  {"data": {"name": "pb_picea"}, "mark": {"type": "area", "orient": "horizontal", "fill": "#7e7c3f", "stroke": "#151515", "strokeWidth": 1.2},
   "encoding": {"x": {"field": "v", "type": "quantitative", "stack": null, "scale": {"domain": [0, 60], "range": [598, 679], "nice": false, "zero": false}, "axis": {"orient": "top", "offset": -164, "values": [0,10,20,30,40,50,60], "labels": false, "title": "Picea", "titleFontStyle": "italic", "titleX": 640.5, "titleY": -20}},
    "y": {"field": "age", "type": "quantitative", "scale": {"domain": [0, 10500], "range": [172, 527], "nice": false, "zero": false}, "axis": null}}},
  {"data": {"values": [{}]}, "mark": {"type": "rule", "color": "#222", "strokeWidth": 1.3},
   "encoding": {"x": {"datum": 0, "type": "quantitative", "scale": {"domain": [0, 60], "range": [598, 679], "nice": false, "zero": false}, "axis": {"orient": "bottom", "offset": -679, "values": [0,10,20,30,40,50,60], "tickSize": 6, "labelExpr": "datum.value % 20 === 0 ? '' + datum.value : ''", "title": ["% of terrestrial", "pollen sum"], "titleFontSize": 15, "titleX": 647, "titleY": 43}},
    "y": {"datum": 0, "type": "quantitative", "scale": {"domain": [0, 10500], "range": [172, 527], "nice": false, "zero": false}, "axis": null}, "y2": {"datum": 10500}}},
  {"data": {"name": "pb_larix"}, "mark": {"type": "area", "orient": "horizontal", "fill": "white", "stroke": "#151515", "strokeWidth": 1},
   "encoding": {"x": {"field": "e", "type": "quantitative", "stack": null, "scale": {"domain": [0, 5], "range": [697, 720], "nice": false, "zero": false}, "axis": {"orient": "top", "offset": -164, "values": [0, 5], "labels": false, "title": "Larix", "titleFontStyle": "italic", "titleX": 708, "titleY": -35}},
    "y": {"field": "age", "type": "quantitative", "scale": {"domain": [0, 10500], "range": [172, 527], "nice": false, "zero": false}, "axis": null}}},
  {"data": {"name": "pb_larix"}, "mark": {"type": "area", "orient": "horizontal", "fill": "#111", "stroke": "#111", "strokeWidth": 0.8},
   "encoding": {"x": {"field": "v", "type": "quantitative", "stack": null, "scale": {"domain": [0, 5], "range": [697, 720], "nice": false, "zero": false}, "axis": null},
    "y": {"field": "age", "type": "quantitative", "scale": {"domain": [0, 10500], "range": [172, 527], "nice": false, "zero": false}, "axis": null}}},
  {"data": {"values": [{}]}, "mark": {"type": "rule", "color": "#222", "strokeWidth": 1.3},
   "encoding": {"x": {"datum": 0, "type": "quantitative", "scale": {"domain": [0, 5], "range": [697, 720], "nice": false, "zero": false}, "axis": {"orient": "bottom", "offset": -679, "values": [0, 5], "tickSize": 6, "labelExpr": "datum.value === 5 ? '5' : ''", "title": null}},
    "y": {"datum": 0, "type": "quantitative", "scale": {"domain": [0, 10500], "range": [172, 527], "nice": false, "zero": false}, "axis": null}, "y2": {"datum": 10500}}},
  {"data": {"name": "pb_spic"}, "mark": {"type": "rect", "color": "#843f3c"},
   "encoding": {"x": {"field": "v", "type": "quantitative", "scale": {"domain": [0, 60], "range": [741, 808], "nice": false, "zero": false}, "axis": {"orient": "top", "offset": -164, "values": [0,15,30,45,60], "labels": false, "title": "Picea", "titleFontStyle": "italic", "titleX": 777, "titleY": -24}},
    "x2": {"datum": 0}, "y": {"field": "a0", "type": "quantitative", "scale": {"domain": [0, 10500], "range": [172, 527], "nice": false, "zero": false}, "axis": null}, "y2": {"field": "a1"}}},
  {"data": {"values": [{}]}, "mark": {"type": "rule", "color": "#222", "strokeWidth": 1.3},
   "encoding": {"x": {"datum": 0, "type": "quantitative", "scale": {"domain": [0, 60], "range": [741, 808], "nice": false, "zero": false}, "axis": {"orient": "bottom", "offset": -679, "values": [0,15,30,45,60], "tickSize": 6, "labelExpr": "datum.value % 30 === 0 && datum.value > 0 ? '' + datum.value : ''", "title": ["x10²", "stomata/cm³"], "titleFontSize": 15, "titleX": 788, "titleY": 43}},
    "y": {"datum": 0, "type": "quantitative", "scale": {"domain": [0, 10500], "range": [172, 527], "nice": false, "zero": false}, "axis": null}, "y2": {"datum": 10500}}},
  {"data": {"name": "pb_slar"}, "mark": {"type": "rect", "color": "#843f3c"},
   "encoding": {"x": {"field": "v", "type": "quantitative", "scale": {"domain": [0, 60], "range": [825, 893], "nice": false, "zero": false}, "axis": {"orient": "top", "offset": -164, "values": [0,15,30,45,60], "labels": false, "title": "Larix", "titleFontStyle": "italic", "titleX": 858, "titleY": -35}},
    "x2": {"datum": 0}, "y": {"field": "a0", "type": "quantitative", "scale": {"domain": [0, 10500], "range": [172, 527], "nice": false, "zero": false}, "axis": null}, "y2": {"field": "a1"}}},
  {"data": {"values": [{}]}, "mark": {"type": "rule", "color": "#222", "strokeWidth": 1.3},
   "encoding": {"x": {"datum": 0, "type": "quantitative", "scale": {"domain": [0, 60], "range": [825, 893], "nice": false, "zero": false}, "axis": {"orient": "bottom", "offset": -679, "values": [0,15,30,45,60], "tickSize": 6, "labelExpr": "datum.value % 30 === 0 && datum.value > 0 ? '' + datum.value : ''", "title": null}},
    "y": {"datum": 0, "type": "quantitative", "scale": {"domain": [0, 10500], "range": [172, 527], "nice": false, "zero": false}, "axis": null}, "y2": {"datum": 10500}}},
  {"data": {"name": "pb_char"}, "mark": {"type": "area", "orient": "horizontal", "fill": "#000", "stroke": "#000", "strokeWidth": 1},
   "encoding": {"x": {"field": "v", "type": "quantitative", "stack": null, "scale": {"domain": [0, 400], "range": [910, 977], "nice": false, "zero": false}, "axis": {"orient": "top", "offset": -164, "values": [0,100,200,300,400], "labels": false, "title": "Charcoal", "titleX": 948, "titleY": -22}},
    "y": {"field": "age", "type": "quantitative", "scale": {"domain": [0, 10500], "range": [172, 527], "nice": false, "zero": false}, "axis": null}}},
  {"data": {"values": [{}]}, "mark": {"type": "rule", "color": "#222", "strokeWidth": 1.3},
   "encoding": {"x": {"datum": 0, "type": "quantitative", "scale": {"domain": [0, 400], "range": [910, 977], "nice": false, "zero": false}, "axis": {"orient": "bottom", "offset": -679, "values": [0,100,200,300,400], "tickSize": 6, "labelExpr": "datum.value % 200 === 0 && datum.value > 0 ? '' + datum.value : ''", "title": ["x10³", "particles/cm³"], "titleFontSize": 15, "titleX": 950, "titleY": 43}},
    "y": {"datum": 0, "type": "quantitative", "scale": {"domain": [0, 10500], "range": [172, 527], "nice": false, "zero": false}, "axis": null}, "y2": {"datum": 10500}}},
  {"data": {"values": [{}]}, "mark": {"type": "rule", "opacity": 0}, "encoding": {"x": {"datum": 0, "type": "quantitative", "scale": {"domain": [0, 1], "range": [594, 635], "nice": false, "zero": false}, "axis": {"orient": "top", "offset": -79, "values": [0], "tickSize": -17, "labels": false, "title": "Pollen", "titleFontSize": 16, "titleX": 658.5, "titleY": 5}}}},
  {"data": {"values": [{}]}, "mark": {"type": "rule", "opacity": 0}, "encoding": {"x": {"datum": 0, "type": "quantitative", "scale": {"domain": [0, 1], "range": [683, 726], "nice": false, "zero": false}, "axis": {"orient": "top", "offset": -79, "values": [1], "tickSize": -17, "labels": false, "title": "-type", "titleX": 708, "titleY": 68}}}},
  {"data": {"values": [{}]}, "mark": {"type": "rule", "opacity": 0}, "encoding": {"x": {"datum": 0, "type": "quantitative", "scale": {"domain": [0, 1], "range": [744, 773], "nice": false, "zero": false}, "axis": {"orient": "top", "offset": -79, "values": [0], "tickSize": -17, "labels": false, "title": "Stomata", "titleFontSize": 16, "titleX": 805, "titleY": 5}}}},
  {"data": {"values": [{}]}, "mark": {"type": "rule", "opacity": 0}, "encoding": {"x": {"datum": 0, "type": "quantitative", "scale": {"domain": [0, 1], "range": [836, 871], "nice": false, "zero": false}, "axis": {"orient": "top", "offset": -79, "values": [1], "tickSize": -17, "labels": false, "title": "-type", "titleX": 858, "titleY": 68}}}},

  {"data": {"values": [{}]}, "mark": {"type": "rule", "opacity": 0}, "encoding": {"y": {"datum": 0, "type": "quantitative", "scale": {"domain": [0, 10500], "range": [770, 1125], "nice": false, "zero": false}, "axis": {"orient": "left", "offset": -77, "values": [0,1000,2000,3000,4000,5000,6000,7000,8000,9000,10000], "tickSize": 7, "labelExpr": "'' + datum.value", "labelFontSize": 16, "labelPadding": 2, "title": ["Age", "(Cal yr BP)"], "titleAngle": 0, "titleFontSize": 16, "titleLineHeight": 21, "titleX": -27, "titleY": 730}}}},
  {"data": {"values": [{}]}, "mark": {"type": "rule", "opacity": 0}, "encoding": {"y": {"datum": 0, "type": "quantitative", "scale": {"domain": [0, 10500], "range": [770, 1125], "nice": false, "zero": false}, "axis": {"orient": "left", "offset": -77, "values": [500,1500,2500,3500,4500,5500,6500,7500,8500,9500,10500], "tickSize": 4, "labels": false, "domain": false, "title": null}}}},
  {"data": {"name": "pc_picea"}, "mark": {"type": "area", "orient": "horizontal", "fill": "#7e7c3f", "stroke": "#151515", "strokeWidth": 1.2},
   "encoding": {"x": {"field": "v", "type": "quantitative", "stack": null, "scale": {"domain": [0, 60], "range": [95, 177], "nice": false, "zero": false}, "axis": {"orient": "top", "offset": -763, "values": [0,10,20,30,40,50,60], "labels": false, "title": "Picea", "titleFontStyle": "italic", "titleX": 143.5, "titleY": -20}},
    "y": {"field": "age", "type": "quantitative", "scale": {"domain": [0, 10500], "range": [770, 1125], "nice": false, "zero": false}, "axis": null}}},
  {"data": {"values": [{}]}, "mark": {"type": "rule", "color": "#222", "strokeWidth": 1.3},
   "encoding": {"x": {"datum": 0, "type": "quantitative", "scale": {"domain": [0, 60], "range": [95, 177], "nice": false, "zero": false}, "axis": {"orient": "bottom", "offset": -81, "values": [0,10,20,30,40,50,60], "tickSize": 6, "labelExpr": "datum.value % 20 === 0 ? '' + datum.value : ''", "title": ["% of terrestrial", "pollen sum"], "titleFontSize": 15, "titleX": 158, "titleY": 45}},
    "y": {"datum": 0, "type": "quantitative", "scale": {"domain": [0, 10500], "range": [770, 1125], "nice": false, "zero": false}, "axis": null}, "y2": {"datum": 10500}}},
  {"data": {"name": "pc_larix"}, "mark": {"type": "area", "orient": "horizontal", "fill": "white", "stroke": "#151515", "strokeWidth": 1},
   "encoding": {"x": {"field": "e", "type": "quantitative", "stack": null, "scale": {"domain": [0, 5], "range": [195, 223], "nice": false, "zero": false}, "axis": {"orient": "top", "offset": -763, "values": [0, 2.5, 5], "labels": false, "title": "Larix", "titleFontStyle": "italic", "titleX": 213, "titleY": -33}},
    "y": {"field": "age", "type": "quantitative", "scale": {"domain": [0, 10500], "range": [770, 1125], "nice": false, "zero": false}, "axis": null}}},
  {"data": {"name": "pc_larix"}, "mark": {"type": "area", "orient": "horizontal", "fill": "#111", "stroke": "#111", "strokeWidth": 0.8},
   "encoding": {"x": {"field": "v", "type": "quantitative", "stack": null, "scale": {"domain": [0, 5], "range": [195, 223], "nice": false, "zero": false}, "axis": null},
    "y": {"field": "age", "type": "quantitative", "scale": {"domain": [0, 10500], "range": [770, 1125], "nice": false, "zero": false}, "axis": null}}},
  {"data": {"values": [{}]}, "mark": {"type": "rule", "color": "#222", "strokeWidth": 1.3},
   "encoding": {"x": {"datum": 0, "type": "quantitative", "scale": {"domain": [0, 5], "range": [195, 223], "nice": false, "zero": false}, "axis": {"orient": "bottom", "offset": -81, "values": [0, 2.5, 5], "tickSize": 6, "labelExpr": "datum.value === 5 ? '5' : ''", "title": null}},
    "y": {"datum": 0, "type": "quantitative", "scale": {"domain": [0, 10500], "range": [770, 1125], "nice": false, "zero": false}, "axis": null}, "y2": {"datum": 10500}}},
  {"data": {"name": "pc_spic"}, "mark": {"type": "rect", "color": "#843f3c"},
   "encoding": {"x": {"field": "v", "type": "quantitative", "scale": {"domain": [0, 200], "range": [245, 321], "nice": false, "zero": false}, "axis": {"orient": "top", "offset": -763, "values": [0,50,100,150,200], "labels": false, "title": "Picea", "titleFontStyle": "italic", "titleX": 273, "titleY": -24}},
    "x2": {"datum": 0}, "y": {"field": "a0", "type": "quantitative", "scale": {"domain": [0, 10500], "range": [770, 1125], "nice": false, "zero": false}, "axis": null}, "y2": {"field": "a1"}}},
  {"data": {"values": [{}]}, "mark": {"type": "rule", "color": "#222", "strokeWidth": 1.3},
   "encoding": {"x": {"datum": 0, "type": "quantitative", "scale": {"domain": [0, 200], "range": [245, 321], "nice": false, "zero": false}, "axis": {"orient": "bottom", "offset": -81, "values": [0,50,100,150,200], "tickSize": 6, "labelExpr": "datum.value % 100 === 0 && datum.value > 0 ? '' + datum.value : ''", "title": ["x10²", "stomata/cm³"], "titleFontSize": 15, "titleX": 328, "titleY": 45}},
    "y": {"datum": 0, "type": "quantitative", "scale": {"domain": [0, 10500], "range": [770, 1125], "nice": false, "zero": false}, "axis": null}, "y2": {"datum": 10500}}},
  {"data": {"name": "pc_slar"}, "mark": {"type": "rect", "color": "#843f3c"},
   "encoding": {"x": {"field": "v", "type": "quantitative", "scale": {"domain": [0, 60], "range": [338, 405], "nice": false, "zero": false}, "axis": {"orient": "top", "offset": -763, "values": [0,15,30,45,60], "labels": false, "title": "Larix", "titleFontStyle": "italic", "titleX": 366, "titleY": -33}},
    "x2": {"datum": 0}, "y": {"field": "a0", "type": "quantitative", "scale": {"domain": [0, 10500], "range": [770, 1125], "nice": false, "zero": false}, "axis": null}, "y2": {"field": "a1"}}},
  {"data": {"values": [{}]}, "mark": {"type": "rule", "color": "#222", "strokeWidth": 1.3},
   "encoding": {"x": {"datum": 0, "type": "quantitative", "scale": {"domain": [0, 60], "range": [338, 405], "nice": false, "zero": false}, "axis": {"orient": "bottom", "offset": -81, "values": [0,15,30,45,60], "tickSize": 6, "labelExpr": "datum.value % 30 === 0 && datum.value > 0 ? '' + datum.value : ''", "title": null}},
    "y": {"datum": 0, "type": "quantitative", "scale": {"domain": [0, 10500], "range": [770, 1125], "nice": false, "zero": false}, "axis": null}, "y2": {"datum": 10500}}},
  {"data": {"name": "pc_char"}, "mark": {"type": "area", "orient": "horizontal", "fill": "#000", "stroke": "#000", "strokeWidth": 1},
   "encoding": {"x": {"field": "v", "type": "quantitative", "stack": null, "scale": {"domain": [0, 400], "range": [422, 512], "nice": false, "zero": false}, "axis": {"orient": "top", "offset": -763, "values": [0,100,200,300,400], "labels": false, "title": "Charcoal", "titleX": 461, "titleY": -23}},
    "y": {"field": "age", "type": "quantitative", "scale": {"domain": [0, 10500], "range": [770, 1125], "nice": false, "zero": false}, "axis": null}}},
  {"data": {"values": [{}]}, "mark": {"type": "rule", "color": "#222", "strokeWidth": 1.3},
   "encoding": {"x": {"datum": 0, "type": "quantitative", "scale": {"domain": [0, 400], "range": [422, 512], "nice": false, "zero": false}, "axis": {"orient": "bottom", "offset": -81, "values": [0,100,200,300,400], "tickSize": 6, "labelExpr": "datum.value % 200 === 0 && datum.value > 0 ? '' + datum.value : ''", "title": ["x10³", "particles/cm³"], "titleFontSize": 15, "titleX": 473, "titleY": 45}},
    "y": {"datum": 0, "type": "quantitative", "scale": {"domain": [0, 10500], "range": [770, 1125], "nice": false, "zero": false}, "axis": null}, "y2": {"datum": 10500}}},
  {"data": {"values": [{}]}, "mark": {"type": "rule", "opacity": 0}, "encoding": {"x": {"datum": 0, "type": "quantitative", "scale": {"domain": [0, 1], "range": [91, 131], "nice": false, "zero": false}, "axis": {"orient": "top", "offset": -686, "values": [0], "tickSize": -18, "labels": false, "title": "Pollen", "titleFontSize": 16, "titleX": 161, "titleY": 5}}}},
  {"data": {"values": [{}]}, "mark": {"type": "rule", "opacity": 0}, "encoding": {"x": {"datum": 0, "type": "quantitative", "scale": {"domain": [0, 1], "range": [187, 230], "nice": false, "zero": false}, "axis": {"orient": "top", "offset": -686, "values": [1], "tickSize": -18, "labels": false, "title": "-type", "titleX": 214, "titleY": 63}}}},
  {"data": {"values": [{}]}, "mark": {"type": "rule", "opacity": 0}, "encoding": {"x": {"datum": 0, "type": "quantitative", "scale": {"domain": [0, 1], "range": [239, 283], "nice": false, "zero": false}, "axis": {"orient": "top", "offset": -686, "values": [0], "tickSize": -18, "labels": false, "title": "Stomata", "titleFontSize": 16, "titleX": 319, "titleY": 5}}}},
  {"data": {"values": [{}]}, "mark": {"type": "rule", "opacity": 0}, "encoding": {"x": {"datum": 0, "type": "quantitative", "scale": {"domain": [0, 1], "range": [352, 409], "nice": false, "zero": false}, "axis": {"orient": "top", "offset": -686, "values": [1], "tickSize": -18, "labels": false, "title": "-type", "titleX": 366, "titleY": 63}}}},

  {"data": {"values": [{}]}, "mark": {"type": "rule", "opacity": 0}, "encoding": {"y": {"datum": 0, "type": "quantitative", "scale": {"domain": [0, 10500], "range": [769, 1124], "nice": false, "zero": false}, "axis": {"orient": "left", "offset": -639, "values": [0,1000,2000,3000,4000,5000,6000,7000,8000,9000,10000], "tickSize": 7, "labelExpr": "'' + datum.value", "labelFontSize": 16, "labelPadding": 2, "title": ["Age", "(Cal yr BP)"], "titleAngle": 0, "titleFontSize": 16, "titleLineHeight": 21, "titleX": -30, "titleY": 730}}}},
  {"data": {"values": [{}]}, "mark": {"type": "rule", "opacity": 0}, "encoding": {"y": {"datum": 0, "type": "quantitative", "scale": {"domain": [0, 10500], "range": [769, 1124], "nice": false, "zero": false}, "axis": {"orient": "left", "offset": -639, "values": [500,1500,2500,3500,4500,5500,6500,7500,8500,9500,10500], "tickSize": 4, "labels": false, "domain": false, "title": null}}}},
  {"data": {"name": "pd_wint"}, "mark": {"type": "line", "color": "#1f3d8a", "strokeWidth": 2.5},
   "encoding": {"x": {"field": "v", "type": "quantitative", "scale": {"domain": [-3, 3], "range": [662, 795], "nice": false, "zero": false}, "axis": {"orient": "top", "offset": -765, "values": [-3,-2,-1,0,1,2,3], "labels": false, "title": "wintT", "titleColor": "#1f3d8a", "titleX": 695, "titleY": -20}},
    "y": {"field": "age", "type": "quantitative", "scale": {"domain": [0, 10500], "range": [769, 1124], "nice": false, "zero": false}, "axis": null},
    "order": {"field": "age", "type": "quantitative"}}},
  {"data": {"name": "pd_summ"}, "mark": {"type": "line", "color": "#e3262d", "strokeWidth": 2.5},
   "encoding": {"x": {"field": "v", "type": "quantitative", "scale": {"domain": [-3, 3], "range": [662, 795], "nice": false, "zero": false}, "axis": {"orient": "top", "offset": -765, "values": [0], "domain": false, "ticks": false, "labels": false, "title": "summT", "titleColor": "#e3262d", "titleX": 765, "titleY": -20}},
    "y": {"field": "age", "type": "quantitative", "scale": {"domain": [0, 10500], "range": [769, 1124], "nice": false, "zero": false}, "axis": null},
    "order": {"field": "age", "type": "quantitative"}}},
  {"data": {"values": [{}]}, "mark": {"type": "rule", "color": "#222", "strokeWidth": 1.3},
   "encoding": {"x": {"datum": -3, "type": "quantitative", "scale": {"domain": [-3, 3], "range": [662, 795], "nice": false, "zero": false}, "axis": {"orient": "bottom", "offset": -83, "values": [-3,-2,-1,0,1,2,3], "tickSize": 6, "labelExpr": "datum.value % 3 === 0 ? '' + datum.value : ''", "title": ["°C difference from", "pre-industrial mean"], "titleFontSize": 15, "titleX": 728, "titleY": 47}},
    "y": {"datum": 0, "type": "quantitative", "scale": {"domain": [0, 10500], "range": [769, 1124], "nice": false, "zero": false}, "axis": null}, "y2": {"datum": 10500}}},
  {"data": {"name": "pd_d18o"}, "mark": {"type": "line", "color": "#4aabb8", "strokeWidth": 2.2},
   "encoding": {"x": {"field": "v", "type": "quantitative", "scale": {"domain": [-20, -10], "range": [824, 957], "nice": false, "zero": false}, "axis": {"orient": "top", "offset": -765, "values": [-20,-19,-18,-17,-16,-15,-14,-13,-12,-11,-10], "labels": false, "title": "δ¹⁸O_SAAR", "titleColor": "#4aabb8", "titleX": 877.5, "titleY": -20}},
    "y": {"field": "age", "type": "quantitative", "scale": {"domain": [0, 10500], "range": [769, 1124], "nice": false, "zero": false}, "axis": null},
    "order": {"field": "age", "type": "quantitative"}}},
  {"data": {"values": [{}]}, "mark": {"type": "rule", "color": "#222", "strokeWidth": 1.3},
   "encoding": {"x": {"datum": -20, "type": "quantitative", "scale": {"domain": [-20, -10], "range": [824, 957], "nice": false, "zero": false}, "axis": {"orient": "bottom", "offset": -83, "values": [-20,-19,-18,-17,-16,-15,-14,-13,-12,-11,-10], "tickSize": 6, "labelExpr": "datum.value % 5 === 0 ? '' + datum.value : ''", "title": "‰ VSMOW", "titleFontSize": 15, "titleX": 900, "titleY": 57}},
    "y": {"datum": 0, "type": "quantitative", "scale": {"domain": [0, 10500], "range": [769, 1124], "nice": false, "zero": false}, "axis": null}, "y2": {"datum": 10500}}},
  {"data": {"values": [{}]}, "mark": {"type": "rule", "opacity": 0}, "encoding": {"x": {"datum": 0, "type": "quantitative", "scale": {"domain": [0, 1], "range": [670, 780], "nice": false, "zero": false}, "axis": {"orient": "top", "offset": -765, "values": [0], "domain": false, "ticks": false, "labels": false, "title": ["LOVECLIM", "-climate model"], "titleLineHeight": 20, "titleX": 722, "titleY": -78}}}},
  {"data": {"values": [{}]}, "mark": {"type": "rule", "opacity": 0}, "encoding": {"x": {"datum": 0, "type": "quantitative", "scale": {"domain": [0, 1], "range": [850, 920], "nice": false, "zero": false}, "axis": {"orient": "top", "offset": -765, "values": [0], "domain": false, "ticks": false, "labels": false, "title": ["Lake", "Saarikko"], "titleLineHeight": 20, "titleX": 886, "titleY": -78}}}},
  {"data": {"values": [{}]}, "mark": {"type": "rule", "opacity": 0}, "encoding": {"x": {"datum": 0, "type": "quantitative", "scale": {"domain": [0, 1], "range": [839, 947], "nice": false, "zero": false}, "axis": {"orient": "bottom", "offset": -92, "values": [0], "domain": true, "domainColor": "#555", "domainWidth": 2, "ticks": false, "labels": false, "title": "Drier/Warmer", "titleFontSize": 15, "titleColor": "#333", "titleX": 890, "titleY": -7}}}},
  {"data": {"values": [{}]}, "mark": {"type": "rule", "opacity": 0}, "encoding": {"x": {"datum": 0, "type": "quantitative", "scale": {"domain": [0, 1], "range": [940, 960], "nice": false, "zero": false}, "axis": {"orient": "bottom", "offset": -92, "values": [0], "domain": false, "ticks": false, "labels": false, "title": "▶", "titleFont": "DejaVu Sans", "titleFontSize": 11, "titleColor": "#444", "titleBaseline": "middle", "titleX": 951, "titleY": 0}}}}
]
}
